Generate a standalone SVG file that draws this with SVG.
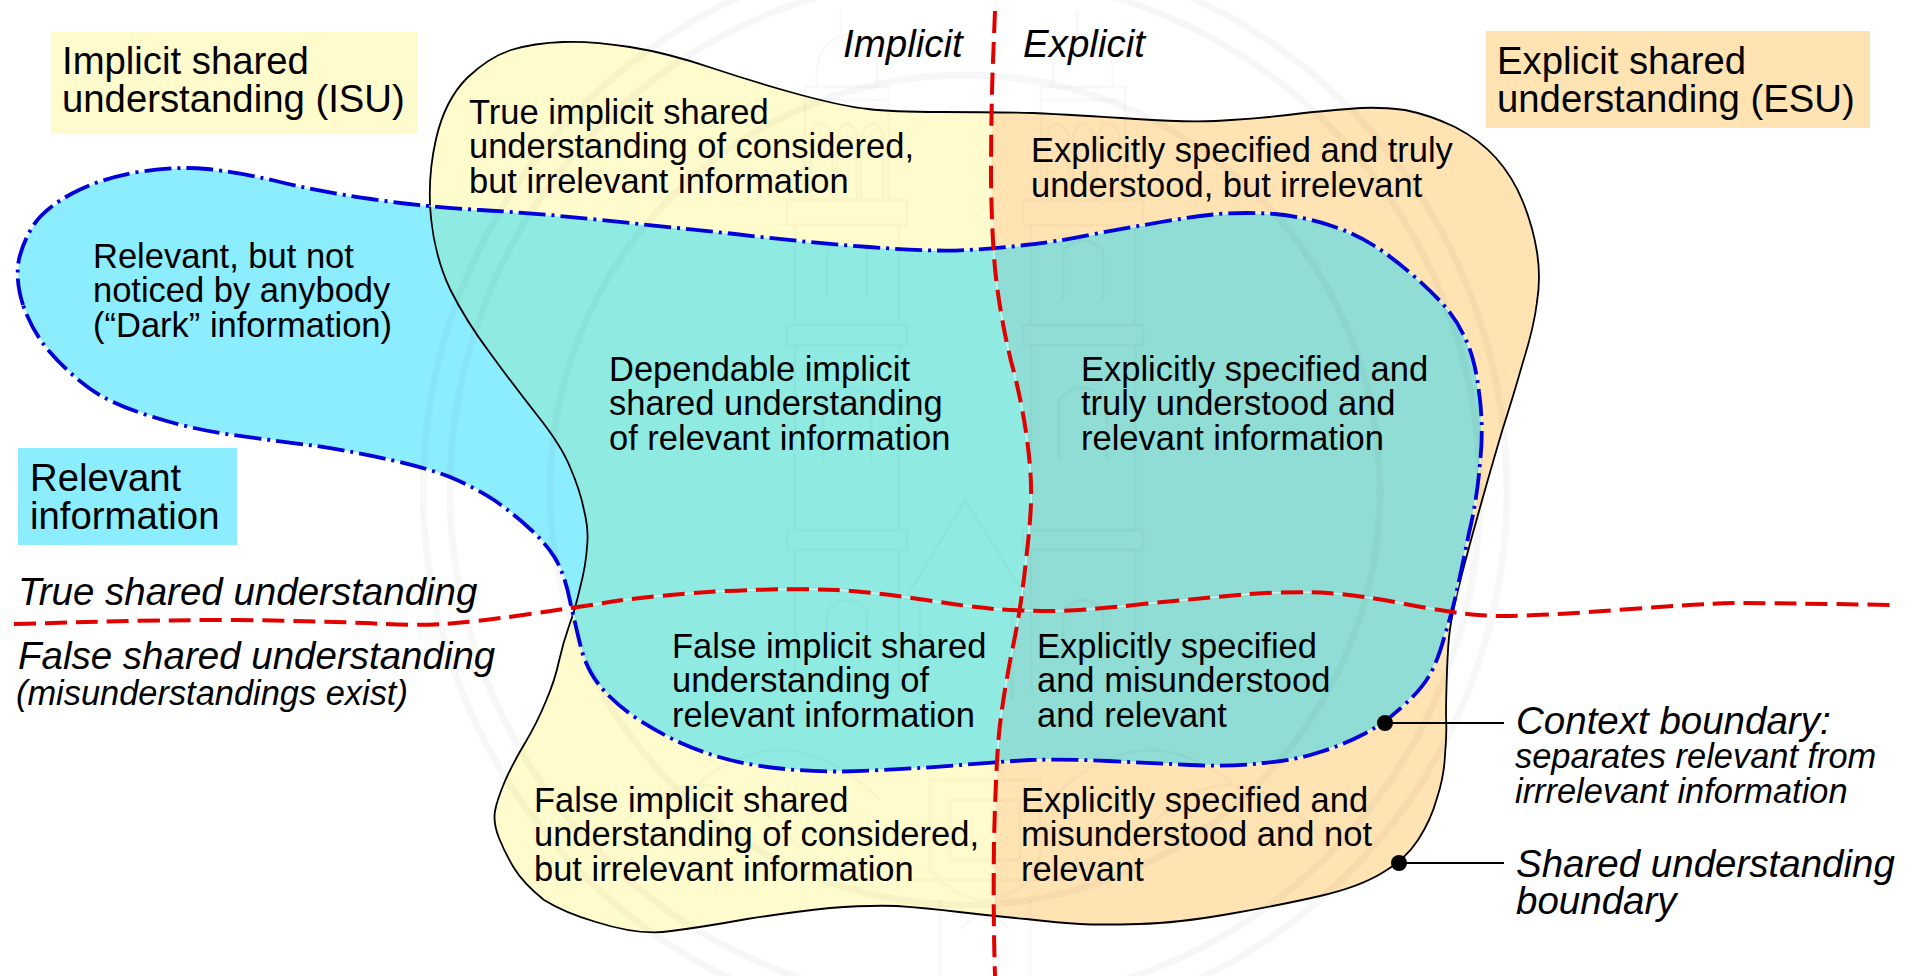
<svg xmlns="http://www.w3.org/2000/svg" width="1912" height="976" viewBox="0 0 1912 976">
<style>
text{font-family:"Liberation Sans",Arial,sans-serif;fill:#000}
.t{font-size:34.5px}
.l{font-size:38.3px}
.i{font-size:38.5px;font-style:italic}
.s{font-size:34.4px;font-style:italic}
.wm{fill:none;stroke:#000;stroke-opacity:.022;stroke-width:3}
.ring{fill:none;stroke:#000;stroke-opacity:.03;stroke-width:7}
.halo{fill:none;stroke:#fff;stroke-opacity:.6;stroke-width:1.6}
.red{fill:none;stroke:#e00000;stroke-width:4;stroke-dasharray:22 9}
.blue{fill:none;stroke:#0000d8;stroke-width:3.8;stroke-dasharray:27 6 3 6}
.lead{fill:none;stroke:#000;stroke-width:1.8}
</style>
<defs>
<path id="shared" d="M563,42 Q592,41 630,47 Q668,53 712,68 Q757,83 801,95 Q846,107 868,109 Q891,112 941,112 Q991,112 1033,113 Q1075,115 1136,119 Q1197,123 1231,120 Q1266,118 1304,113 Q1343,109 1362,108 Q1380,107 1405,110 Q1430,115 1455,127 Q1480,140 1496,158 Q1513,177 1523,202 Q1533,227 1537,252 Q1541,277 1537,302 Q1534,327 1523,362 Q1513,397 1503,428 Q1494,458 1483,497 Q1472,536 1467,555 Q1462,573 1457,594 Q1452,615 1450,629 Q1448,643 1447,671 Q1446,700 1446,716 Q1447,733 1445,755 Q1444,777 1437,798 Q1431,820 1418,840 Q1405,860 1382,873 Q1359,887 1320,896 Q1281,905 1229,914 Q1178,923 1139,924 Q1100,925 1080,924 Q1060,923 1026,919 Q993,916 959,912 Q926,908 897,906 Q868,905 830,908 Q792,912 747,919 Q703,927 671,931 Q640,936 596,922 Q565,913 544,900 Q523,883 514,868 Q505,853 499,838 Q493,823 495,811 Q497,800 505,781 Q513,763 525,743 Q537,723 546,701 Q555,680 559,661 Q563,643 569,626 Q575,610 580,588 Q586,565 587,547 Q589,530 584,510 Q580,490 570,467 Q561,445 537,415 Q514,386 490,353 Q466,321 450,289 Q435,257 431,218 Q427,179 436,139 Q445,100 467,78 Q489,57 511,50 Q534,43 563,42 Z"/>
<path id="relevant" d="M23,305 Q15,280 19,259 Q24,239 35,223 Q47,207 73,193 Q99,179 138,172 Q178,166 207,169 Q237,172 276,181 Q316,191 371,199 Q427,207 480,210 Q534,213 601,220 Q668,227 735,234 Q802,242 869,247 Q936,252 965,250 Q994,249 1025,245 Q1056,242 1094,234 Q1132,227 1161,222 Q1190,217 1218,214 Q1247,212 1275,214 Q1304,217 1329,225 Q1354,233 1373,245 Q1392,257 1409,272 Q1427,287 1441,302 Q1456,318 1465,338 Q1475,358 1479,392 Q1484,427 1480,463 Q1477,500 1469,533 Q1462,567 1457,590 Q1452,613 1444,638 Q1437,663 1429,676 Q1421,690 1403,706 Q1385,723 1364,734 Q1343,745 1320,752 Q1297,760 1263,763 Q1229,767 1190,765 Q1152,763 1108,761 Q1065,759 1030,760 Q996,762 961,765 Q926,768 881,770 Q837,773 797,770 Q757,767 730,760 Q703,753 681,743 Q659,733 636,718 Q614,703 600,686 Q587,670 581,648 Q576,627 570,601 Q565,575 555,558 Q545,542 529,528 Q514,514 494,500 Q474,487 450,477 Q427,468 391,460 Q356,452 316,446 Q277,441 233,435 Q190,429 150,416 Q111,404 89,388 Q67,372 49,351 Q32,331 23,305 Z"/>
<path id="vline" d="M995,11 L993,61 Q991,112 991,180 Q992,249 997,286 Q1002,324 1011,361 Q1021,398 1026,432 Q1031,467 1031,488 Q1032,510 1026,560 Q1021,610 1011,656 Q1002,703 999,734 Q996,765 994,840 Q993,915 995,976"/>
<path id="hline" d="M14,624 L86,622 Q158,620 237,620 Q316,621 365,623 Q415,626 444,624 Q474,622 523,615 Q573,608 616,601 Q659,595 725,591 Q792,588 837,590 Q882,593 926,600 Q971,607 995,609 Q1020,611 1051,611 Q1083,611 1143,604 Q1204,598 1250,594 Q1297,591 1328,593 Q1359,595 1405,604 Q1452,613 1478,615 Q1504,617 1535,615 Q1566,614 1631,609 Q1696,604 1734,603 Q1773,603 1892,605"/>
<clipPath id="inShared"><use href="#shared"/></clipPath>
<clipPath id="rightSide"><path d="M995,0 L995,11 L993,61 Q991,112 991,180 Q992,249 997,286 Q1002,324 1011,361 Q1021,398 1026,432 Q1031,467 1031,488 Q1032,510 1026,560 Q1021,610 1011,656 Q1002,703 999,734 Q996,765 994,840 Q993,915 995,976 L1912,976 L1912,0 Z"/></clipPath>
<g id="tower">
<path d="M-6,10V40M-30,87V70Q-28,40 0,34Q28,40 30,70V87M-42,87H42V100H-42ZM-42,100V200M42,100V200M-36,200V135Q-28,112 -14,135V200M-10,200V135Q0,112 10,135V200M14,200V135Q28,112 36,135V200M-60,200H60V225H-60ZM-52,225V325M52,225V325M-20,300V250Q0,232 20,250V300M-60,325H60V345H-60ZM-52,345V530M52,345V530M-24,460V400Q0,375 24,400V460M-60,530H60V550H-60ZM-52,550V690M52,550V690M-20,660V610Q0,590 20,610V660"/>
</g>
</defs>
<rect width="1912" height="976" fill="#fff"/>
<g id="regions">
<use href="#shared" fill="#fffbcc"/>
<g clip-path="url(#rightSide)"><use href="#shared" fill="#ffe3b3"/></g>
<use href="#relevant" fill="#8cedff"/>
<g clip-path="url(#inShared)"><use href="#relevant" fill="#8febe2"/>
<g clip-path="url(#rightSide)"><use href="#relevant" fill="#8fddd4"/></g></g>
</g>
<g id="watermark">
<circle class="ring" cx="965" cy="490" r="542"/><circle class="ring" cx="965" cy="490" r="515"/><circle class="ring" cx="965" cy="490" r="415" stroke-opacity=".02"/>
<g class="wm">
<use href="#tower" transform="translate(847,0)"/>
<use href="#tower" transform="translate(1083,0)"/>
<path d="M905,600L965,500L1028,600M920,600V700M1012,600V700"/>
<path d="M600,850Q700,720 800,850M1130,850Q1230,720 1330,850M680,800Q780,700 880,800M1050,800Q1150,700 1250,800"/>
<path d="M930,780H1040V870Q985,930 930,870ZM950,800H1020V860H950ZM900,880H1070M940,900V976M1030,900V976M960,930Q985,900 1010,930"/>
</g>
</g>
<g id="connectors">
<use href="#shared" fill="none" stroke="#000" stroke-width="1.8"/>
<use href="#relevant" class="halo"/>
<use href="#relevant" class="blue"/>
<use href="#vline" class="halo"/>
<use href="#hline" class="halo"/>
<use id="line-implicit-explicit" href="#vline" class="red"/>
<use id="line-true-false" href="#hline" class="red"/>
<path class="lead" d="M1385,723H1504M1399,863H1504"/>
<ellipse cx="1385" cy="723" rx="8" ry="8"/><ellipse cx="1399" cy="863" rx="8" ry="8"/>
</g>
<g id="legend-isu"><rect x="51" y="32" width="367" height="102" fill="#fffbcc"/><text class="l"><tspan x="62" y="74">Implicit shared</tspan><tspan x="62" y="112">understanding (ISU)</tspan></text></g>
<g id="legend-esu"><rect x="1486" y="31" width="384" height="97" fill="#ffe3b3"/><text class="l"><tspan x="1497" y="74">Explicit shared</tspan><tspan x="1497" y="112">understanding (ESU)</tspan></text></g>
<g id="legend-relevant"><rect x="18" y="448" width="219" height="97" fill="#8cedff"/><text class="l"><tspan x="30" y="491">Relevant</tspan><tspan x="30" y="529">information</tspan></text></g>
<g id="label-implicit"><text class="i" x="843" y="57">Implicit</text></g>
<g id="label-explicit"><text class="i" x="1023" y="57">Explicit</text></g>
<g id="node-true-implicit-irrelevant"><text class="t"><tspan x="469" y="124">True implicit shared</tspan><tspan x="469" y="158">understanding of considered,</tspan><tspan x="469" y="193">but irrelevant information</tspan></text></g>
<g id="node-explicit-true-irrelevant"><text class="t"><tspan x="1031" y="162">Explicitly specified and truly</tspan><tspan x="1031" y="197">understood, but irrelevant</tspan></text></g>
<g id="node-dark"><text class="t"><tspan x="93" y="268">Relevant, but not</tspan><tspan x="93" y="302">noticed by anybody</tspan><tspan x="93" y="337">(“Dark” information)</tspan></text></g>
<g id="node-dependable"><text class="t"><tspan x="609" y="381">Dependable implicit</tspan><tspan x="609" y="415">shared understanding</tspan><tspan x="609" y="450">of relevant information</tspan></text></g>
<g id="node-explicit-true-relevant"><text class="t"><tspan x="1081" y="381">Explicitly specified and</tspan><tspan x="1081" y="415">truly understood and</tspan><tspan x="1081" y="450">relevant information</tspan></text></g>
<g id="node-false-implicit-relevant"><text class="t"><tspan x="672" y="658">False implicit shared</tspan><tspan x="672" y="692">understanding of</tspan><tspan x="672" y="727">relevant information</tspan></text></g>
<g id="node-explicit-mis-relevant"><text class="t"><tspan x="1037" y="658">Explicitly specified</tspan><tspan x="1037" y="692">and misunderstood</tspan><tspan x="1037" y="727">and relevant</tspan></text></g>
<g id="node-false-implicit-irrelevant"><text class="t"><tspan x="534" y="812">False implicit shared</tspan><tspan x="534" y="846">understanding of considered,</tspan><tspan x="534" y="881">but irrelevant information</tspan></text></g>
<g id="node-explicit-mis-irrelevant"><text class="t"><tspan x="1021" y="812">Explicitly specified and</tspan><tspan x="1021" y="846">misunderstood and not</tspan><tspan x="1021" y="881">relevant</tspan></text></g>
<g id="label-true"><text class="i" x="18" y="605">True shared understanding</text></g>
<g id="label-false"><text class="i" x="18" y="669">False shared understanding</text><text class="s" x="16" y="705">(misunderstandings exist)</text></g>
<g id="label-context"><text class="i" x="1516" y="734">Context boundary:</text><text class="s"><tspan x="1515" y="768">separates relevant from</tspan><tspan x="1515" y="803">irrrelevant information</tspan></text></g>
<g id="label-boundary"><text class="i"><tspan x="1516" y="877">Shared understanding</tspan><tspan x="1516" y="914">boundary</tspan></text></g>
</svg>
